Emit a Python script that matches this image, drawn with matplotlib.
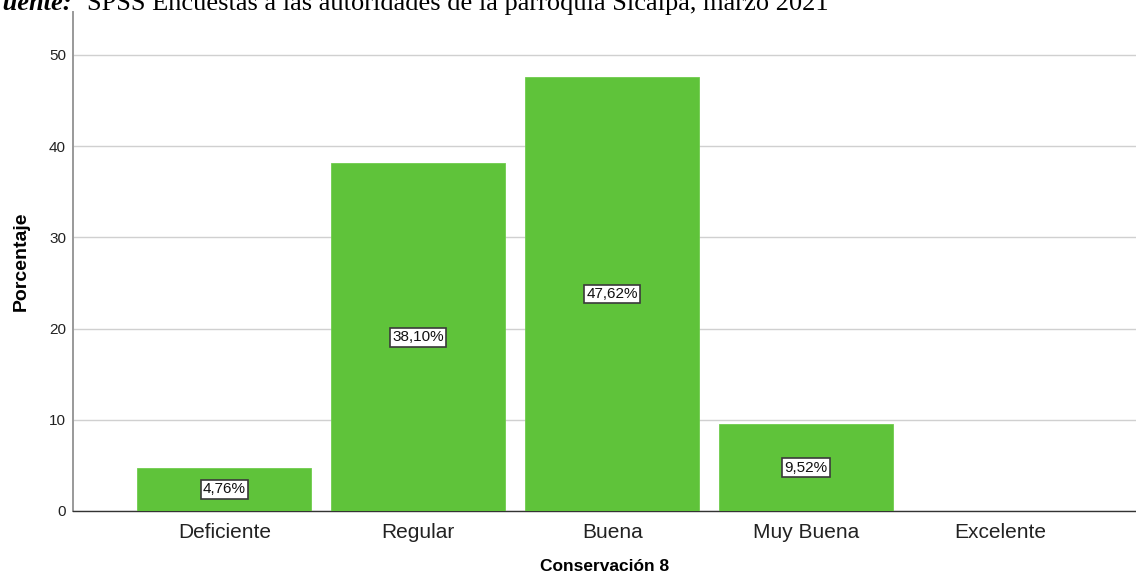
import matplotlib.pyplot as plt
import numpy as np

# data
categorias = ['Deficiente', 'Regular', 'Buena', 'Muy Buena', 'Excelente']
porcentajes = [4.76, 38.10, 47.62, 9.52, 0.0]
etiquetas = ['4,76%', '38,10%', '47,62%', '9,52%', None]
y_ticks = [0, 10, 20, 30, 40, 50]

W, H = 1136, 580
plt.rcParams['font.family'] = ['Liberation Sans', 'DejaVu Sans']

fig = plt.figure(figsize=(W / 100, H / 100), dpi=100)
ax = fig.add_axes([73 / W, 1 - 511 / H, (W - 73) / W, (511 - 12) / H])

x = np.arange(len(categorias))
ax.bar(x, porcentajes, width=0.897, color='#5fc33a', edgecolor='#6fcc4c',
       linewidth=0.6, zorder=3)

# value labels in white boxes at half bar height
for xi, val, lab in zip(x, porcentajes, etiquetas):
    if lab is None:
        continue
    ax.text(xi, val / 2, lab, ha='center', va='center', fontsize=11, color='#111111',
            zorder=4,
            bbox=dict(boxstyle='square,pad=0.15', facecolor='white',
                      edgecolor='#3a3a3a', linewidth=1.2))

ax.set_xlim(-0.78, 4.70)
ax.set_ylim(0, 54.7)
ax.set_yticks(y_ticks)
ax.set_yticklabels([str(t) for t in y_ticks], fontsize=11, color='#222222')
ax.set_xticks(x)
ax.set_xticklabels(categorias, fontsize=15, color='#222222')
ax.tick_params(axis='y', length=0, pad=5)
ax.tick_params(axis='x', length=0, pad=9)
ax.yaxis.grid(True, color='#d0d0d0', linewidth=1.0, zorder=0)
ax.set_axisbelow(True)

for s in ['top', 'right']:
    ax.spines[s].set_visible(False)
ax.spines['left'].set_color('#999999')
ax.spines['left'].set_linewidth(1.4)
ax.spines['bottom'].set_color('#333333')
ax.spines['bottom'].set_linewidth(1.0)

ax.set_xlabel('Conservación 8', fontsize=12.5, fontweight='bold', labelpad=12)
ax.set_ylabel('Porcentaje', fontsize=14, fontweight='bold', labelpad=14)

# caption line, cut off at the top edge as in the source image
fig.text(72 / W, 1 - 10 / H, 'Fuente:', ha='right', va='baseline',
         fontsize=19, fontweight='bold', fontstyle='italic',
         family='Liberation Serif')
fig.text(87 / W, 1 - 10 / H,
         'SPSS Encuestas a las autoridades de la parroquia Sicalpa, marzo 2021',
         ha='left', va='baseline', fontsize=19, family='Liberation Serif')

fig.savefig('out.png', dpi=100)
